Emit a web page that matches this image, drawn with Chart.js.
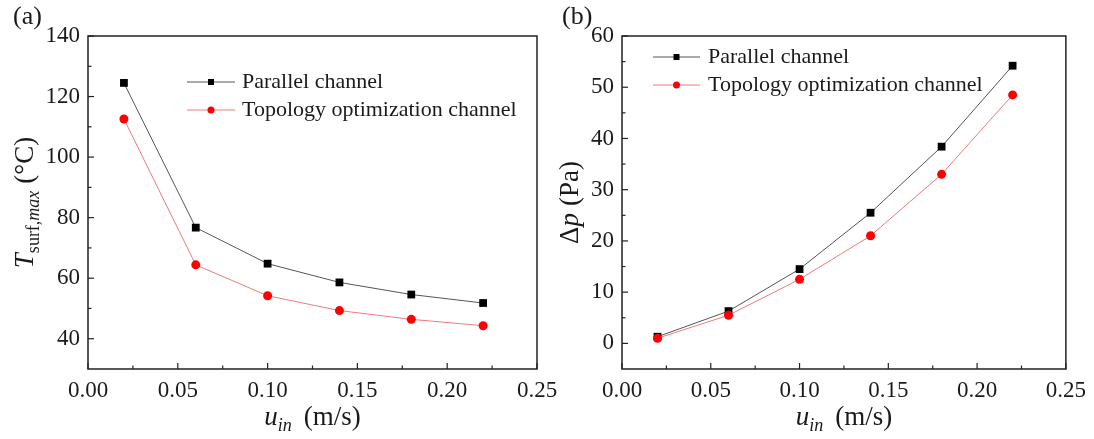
<!DOCTYPE html>
<html>
<head>
<meta charset="utf-8">
<script src="https://cdn.jsdelivr.net/npm/chart.js@4.4.1/dist/chart.umd.min.js"></script>
<style>
    body { margin: 0; background: #fff; width: 1094px; height: 439px; overflow: hidden; position: relative; }
    .panel { position: absolute; top: 0; height: 439px; }
</style>
</head>
<body>
<div class="panel" style="left:0; width:580px;"><canvas id="grafA"></canvas></div>
<div class="panel" style="left:530px; width:564px;"><canvas id="grafB"></canvas></div>
<script>
// data
var uIn = [0.02, 0.06, 0.10, 0.14, 0.18, 0.22];
var tempParallel = [124.5, 76.7, 64.8, 58.6, 54.6, 51.8];
var tempTopology = [112.6, 64.4, 54.2, 49.3, 46.4, 44.3];
var dpParallel = [1.3, 6.3, 14.5, 25.5, 38.4, 54.2];
var dpTopology = [1.0, 5.5, 12.5, 21.0, 33.0, 48.5];
var seriesNames = ["Parallel channel", "Topology optimization channel"];
var xTicks = [0, 0.05, 0.10, 0.15, 0.20, 0.25];
var yTicksA = [40, 60, 80, 100, 120, 140];
var yTicksB = [0, 10, 20, 30, 40, 50, 60];

var SERIF = "Liberation Serif";
var INK = '#1a1a1a';

function pts(xs, ys) {
    var out = [];
    for (var i = 0; i < xs.length; i++) out.push({x: xs[i], y: ys[i]});
    return out;
}

// draws a line of mixed-style text centered at cx, baseline cy
function drawRuns(ctx, runs, cx, cy) {
    var w = 0;
    runs.forEach(function (r) { ctx.font = r.font; w += ctx.measureText(r.text).width + (r.gap || 0); });
    var x = cx - w / 2;
    ctx.textAlign = 'left';
    ctx.textBaseline = 'alphabetic';
    runs.forEach(function (r) {
        ctx.font = r.font;
        ctx.fillText(r.text, x, cy + (r.dy || 0));
        x += ctx.measureText(r.text).width + (r.gap || 0);
    });
}

function marker(ctx, type, x, y, r, color) {
    ctx.fillStyle = color;
    ctx.beginPath();
    if (type === 'rect') ctx.rect(x - r, y - r, 2 * r, 2 * r);
    else ctx.arc(x, y, r, 0, Math.PI * 2);
    ctx.fill();
}

var decor = {
    id: 'decor',
    afterDraw: function (chart, args, o) {
        var ctx = chart.ctx, a = chart.chartArea;
        var xs = chart.scales.x, ys = chart.scales.y;
        ctx.save();
        ctx.strokeStyle = '#222';
        ctx.lineWidth = 1.2;
        // inward ticks, major + minor (midpoints)
        function tickList(major) {
            var l = [];
            for (var i = 0; i < major.length; i++) {
                l.push([major[i], 6]);
                if (i < major.length - 1) l.push([(major[i] + major[i + 1]) / 2, 3.5]);
            }
            return l;
        }
        tickList(o.xMajor).forEach(function (t) {
            var px = xs.getPixelForValue(t[0]);
            ctx.beginPath(); ctx.moveTo(px, a.bottom); ctx.lineTo(px, a.bottom - t[1]); ctx.stroke();
        });
        tickList(o.yMajor).forEach(function (t) {
            var py = ys.getPixelForValue(t[0]);
            ctx.beginPath(); ctx.moveTo(a.left, py); ctx.lineTo(a.left + t[1], py); ctx.stroke();
        });
        ctx.lineWidth = 1.5;
        ctx.strokeRect(a.left, a.top, a.right - a.left, a.bottom - a.top);

        // legend
        var ds = chart.data.datasets;
        for (var i = 0; i < o.legend.names.length; i++) {
            var ly = o.legend.y + i * 28;
            var d = ds[i];
            ctx.strokeStyle = d.borderColor; ctx.lineWidth = 1;
            ctx.beginPath(); ctx.moveTo(o.legend.x0, ly); ctx.lineTo(o.legend.x1, ly); ctx.stroke();
            marker(ctx, d.pointStyle, (o.legend.x0 + o.legend.x1) / 2, ly,
                   d.pointStyle === 'rect' ? 3 : 3.5, d.pointBackgroundColor);
            ctx.fillStyle = INK;
            ctx.textAlign = 'left'; ctx.textBaseline = 'middle';
            ctx.font = '22px ' + SERIF;
            ctx.fillText(o.legend.names[i], o.legend.tx, ly);
        }

        // panel label
        ctx.fillStyle = INK;
        ctx.font = '26px ' + SERIF;
        ctx.textAlign = 'left'; ctx.textBaseline = 'alphabetic';
        ctx.fillText(o.panel, o.panelX, 24);

        // x title
        var xc = (a.left + a.right) / 2;
        drawRuns(ctx, [
            {text: 'u', font: 'italic 27px ' + SERIF},
            {text: 'in', font: 'italic 18px ' + SERIF, dy: 6, gap: 12},
            {text: '(m/s)', font: '27px ' + SERIF}
        ], xc, 425);

        // y title (rotated)
        ctx.save();
        ctx.translate(o.yTitleX, (a.top + a.bottom) / 2);
        ctx.rotate(-Math.PI / 2);
        drawRuns(ctx, o.yTitle, 0, 0);
        ctx.restore();
        ctx.restore();
    }
};

function scalesFor(xMin, xMax, yMin, yMax, yTicks, yWidth) {
    return {
        x: {
            type: 'linear', min: xMin, max: xMax,
            afterBuildTicks: function (s) { s.ticks = xTicks.map(function (v) { return {value: v}; }); },
            afterFit: function (s) { s.height = 70; },
            grid: {display: false, drawTicks: false}, border: {display: false},
            ticks: {
                padding: 8, color: INK, maxRotation: 0, autoSkip: false,
                font: {family: SERIF, size: 23},
                callback: function (v) { return v.toFixed(2); }
            }
        },
        y: {
            min: yMin, max: yMax,
            afterBuildTicks: function (s) { s.ticks = yTicks.map(function (v) { return {value: v}; }); },
            afterFit: function (s) { s.width = yWidth; },
            grid: {display: false, drawTicks: false}, border: {display: false},
            ticks: {padding: 8, color: INK, font: {family: SERIF, size: 23}}
        }
    };
}

function datasetsFor(yPar, yTop) {
    return [{
        label: seriesNames[0],
        data: pts(uIn, yPar),
        borderColor: '#555555', borderWidth: 1,
        pointStyle: 'rect', pointRadius: 5.5, pointHoverRadius: 5.5,
        pointBackgroundColor: '#000000', pointBorderColor: '#000000', pointBorderWidth: 0,
        tension: 0, order: 2
    }, {
        label: seriesNames[1],
        data: pts(uIn, yTop),
        borderColor: '#f07a7a', borderWidth: 1,
        pointStyle: 'circle', pointRadius: 4.5, pointHoverRadius: 4.5,
        pointBackgroundColor: '#ff0000', pointBorderColor: '#ff0000', pointBorderWidth: 0,
        tension: 0, order: 1
    }];
}

new Chart("grafA", {
    type: "line",
    data: {datasets: datasetsFor(tempParallel, tempTopology)},
    plugins: [decor],
    options: {
        responsive: true, maintainAspectRatio: false, animation: false,
        layout: {padding: {top: 36, right: 43, left: 0, bottom: 0}},
        scales: scalesFor(0, 0.25, 30, 140, yTicksA, 88),
        plugins: {
            legend: {display: false}, tooltip: {enabled: false},
            decor: {
                xMajor: xTicks, yMajor: yTicksA,
                legend: {names: seriesNames, x0: 187, x1: 235, tx: 242, y: 82},
                panel: '(a)', panelX: 13,
                yTitleX: 33,
                yTitle: [
                    {text: 'T', font: 'italic 27px ' + SERIF},
                    {text: 'surf,', font: '18px ' + SERIF, dy: 6},
                    {text: 'max', font: 'italic 18px ' + SERIF, dy: 6, gap: 7},
                    {text: '(\u00B0C)', font: '27px ' + SERIF}
                ]
            }
        }
    }
});

new Chart("grafB", {
    type: "line",
    data: {datasets: datasetsFor(dpParallel, dpTopology)},
    plugins: [decor],
    options: {
        responsive: true, maintainAspectRatio: false, animation: false,
        layout: {padding: {top: 36, right: 26, left: 0, bottom: 0}},
        scales: scalesFor(0, 0.25, -5, 60, yTicksB, 92),
        plugins: {
            legend: {display: false}, tooltip: {enabled: false},
            decor: {
                xMajor: xTicks, yMajor: yTicksB,
                legend: {names: seriesNames, x0: 123, x1: 170, tx: 178, y: 57},
                panel: '(b)', panelX: 32,
                yTitleX: 48,
                yTitle: [
                    {text: '\u0394', font: '27px ' + SERIF},
                    {text: 'p', font: 'italic 27px ' + SERIF, gap: 7},
                    {text: '(Pa)', font: '27px ' + SERIF}
                ]
            }
        }
    }
});
</script>
</body>
</html>
